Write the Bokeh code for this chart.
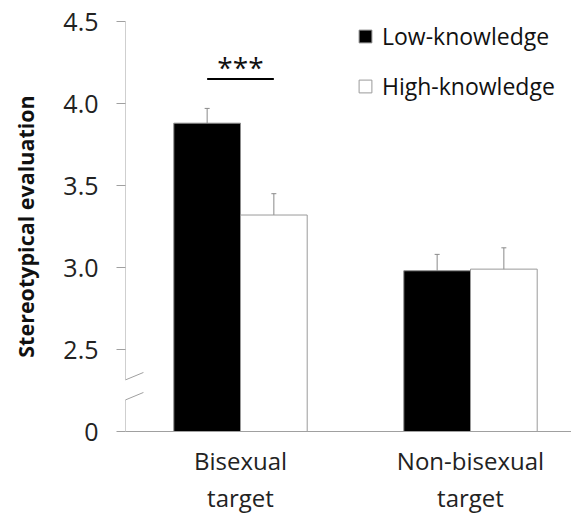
from bokeh.plotting import figure
from bokeh.models import (ColumnDataSource, Range1d, FixedTicker, Whisker, TeeHead,
                          Label, Arrow, Legend, LegendItem)
from bokeh.embed import file_html
from bokeh.resources import INLINE

# ---- data ----
categories = ["Bisexual\ntarget", "Non-bisexual\ntarget"]
low_knowledge = [3.88, 2.98]
high_knowledge = [3.32, 2.99]
low_se = [0.09, 0.10]
high_se = [0.13, 0.13]
y_ticks = [2.0, 2.5, 3.0, 3.5, 4.0, 4.5]
y_tick_labels = ["0", "2.5", "3.0", "3.5", "4.0", "4.5"]
axis_floor = 2.0          # shown as "0" on the broken axis
sig_text = "***"
sig_y = 4.15

# ---- layout constants ----
FONT = "Open Sans"
GRAY = "#a0a0a0"
cat_x = [0.5, 1.5]
offset = 0.145
bar_w = 0.29
break_y = [(2.274, 2.360), (2.152, 2.238)]
break_x = (-0.07, 0.078)
gap = (2.193, 2.315)

x_low = [c - offset for c in cat_x]
x_high = [c + offset for c in cat_x]

src = ColumnDataSource(dict(
    x_low=x_low, x_high=x_high,
    low=low_knowledge, high=high_knowledge,
    low_up=[v + s for v, s in zip(low_knowledge, low_se)],
    high_up=[v + s for v, s in zip(high_knowledge, high_se)],
    high_lo=[v - s for v, s in zip(high_knowledge, high_se)],
))

p = figure(width=571, height=517, x_range=Range1d(0, 446 / 230),
           y_range=Range1d(axis_floor, 4.5), output_backend="svg",
           toolbar_location=None, min_border_left=125, min_border_top=21,
           min_border_bottom=86, min_border_right=0)
p.outline_line_color = None
p.xgrid.visible = False
p.ygrid.visible = False

r_low = p.vbar(x="x_low", top="low", bottom=axis_floor, width=bar_w, source=src,
               fill_color="black", line_color="#8c8c8c", line_width=1)
r_high = p.vbar(x="x_high", top="high", bottom=axis_floor, width=bar_w, source=src,
                fill_color="white", line_color="#9a9a9a", line_width=1)

ecol = "#8a8a8a"
p.add_layout(Whisker(base="x_low", upper="low_up", lower="low", source=src,
                     dimension="height", line_color=ecol, line_width=1,
                     upper_head=TeeHead(size=5, line_color=ecol, line_width=1),
                     lower_head=None))
p.add_layout(Whisker(base="x_high", upper="high_up", lower="high_lo", source=src,
                     dimension="height", line_color=ecol, line_width=1,
                     upper_head=TeeHead(size=5, line_color=ecol, line_width=1),
                     lower_head=TeeHead(size=5, line_color=ecol, line_width=1)))

# y axis
yax = p.yaxis[0]
yax.ticker = FixedTicker(ticks=y_ticks)
yax.major_label_overrides = dict(zip(y_ticks, y_tick_labels))
yax.axis_line_color = None
yax.major_tick_line_color = GRAY
yax.major_tick_out = 9
yax.major_tick_in = 0
yax.minor_tick_line_color = None
yax.major_label_standoff = 18
yax.major_label_text_font = FONT
yax.major_label_text_font_size = "25px"
yax.major_label_text_color = "#222222"
yax.axis_label = "Stereotypical evaluation"
yax.axis_label_text_font = FONT
yax.axis_label_text_font_style = "bold"
yax.axis_label_text_font_size = "21.5px"
yax.axis_label_text_color = "#111111"
yax.axis_label_standoff = 20

# broken y axis line
p.add_layout(Arrow(end=None, x_start=0, y_start=4.5, x_end=0, y_end=gap[1],
                   line_color=GRAY, line_width=1))
p.add_layout(Arrow(end=None, x_start=0, y_start=gap[0], x_end=0, y_end=axis_floor,
                   line_color=GRAY, line_width=1))
for y0, y1 in break_y:
    p.add_layout(Arrow(end=None, x_start=break_x[0], y_start=y0, x_end=break_x[1],
                       y_end=y1, line_color=GRAY, line_width=1))

# x axis
xax = p.xaxis[0]
xax.ticker = FixedTicker(ticks=cat_x)
xax.major_label_overrides = dict(zip(cat_x, categories))
xax.axis_line_color = GRAY
xax.major_tick_line_color = None
xax.minor_tick_line_color = None
xax.major_label_standoff = 6
xax.major_label_text_font = FONT
xax.major_label_text_font_size = "24px"
xax.major_label_text_line_height = 1.14
xax.major_label_text_color = "#222222"

# significance
p.add_layout(Arrow(end=None, x_start=x_low[0], y_start=sig_y, x_end=x_high[0],
                   y_end=sig_y, line_color="black", line_width=2))
p.add_layout(Label(x=cat_x[0], y=sig_y, text=sig_text, text_align="center",
                   text_baseline="alphabetic", y_offset=12, text_font=FONT,
                   text_font_size="28px", text_color="#111111"))

legend = Legend(items=[LegendItem(label="Low-knowledge", renderers=[r_low]),
                       LegendItem(label="High-knowledge", renderers=[r_high])],
                location=(232, 329), glyph_width=16, glyph_height=16,
                label_text_font=FONT, label_text_font_size="23px",
                label_text_color="#111111", label_height=22,
                spacing=18, padding=0, margin=0, label_standoff=9,
                border_line_color=None, background_fill_alpha=0)
p.add_layout(legend)

open("out.html", "w").write(file_html(p, INLINE))
